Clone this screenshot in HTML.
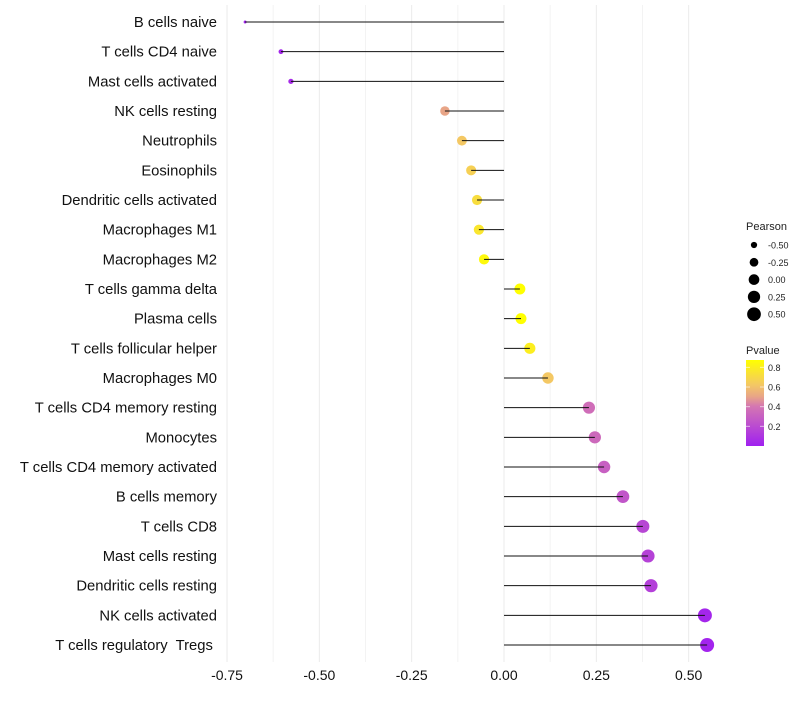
<!DOCTYPE html>
<html><head><meta charset="utf-8"><style>
body{margin:0;background:#fff;font-family:"Liberation Sans",sans-serif}
text{white-space:pre}
</style></head><body>
<svg id="c" width="800" height="700" xmlns="http://www.w3.org/2000/svg" font-family="Liberation Sans, sans-serif"></svg>
<script>
const categories=["B cells naive","T cells CD4 naive","Mast cells activated","NK cells resting","Neutrophils","Eosinophils","Dendritic cells activated","Macrophages M1","Macrophages M2","T cells gamma delta","Plasma cells","T cells follicular helper","Macrophages M0","T cells CD4 memory resting","Monocytes","T cells CD4 memory activated","B cells memory","T cells CD8","Mast cells resting","Dendritic cells resting","NK cells activated","T cells regulatory  Tregs "];
const pearson=[-0.701,-0.604,-0.577,-0.160,-0.114,-0.089,-0.073,-0.068,-0.054,0.043,0.046,0.070,0.119,0.230,0.246,0.271,0.322,0.376,0.390,0.398,0.544,0.550];
const pvalue=[0.01,0.03,0.05,0.50,0.62,0.66,0.72,0.76,0.85,0.88,0.88,0.80,0.62,0.36,0.34,0.30,0.25,0.18,0.16,0.15,0.03,0.02];
const xTicks=[-0.75,-0.5,-0.25,0,0.25,0.5];
const xTickLabels=["-0.75","-0.50","-0.25","0.00","0.25","0.50"];
const sizeLegend=[-0.5,-0.25,0,0.25,0.5];
const sizeLegendLabels=["-0.50","-0.25","0.00","0.25","0.50"];
const pTicks=[0.2,0.4,0.6,0.8];

const svg=document.getElementById('c');const NS="http://www.w3.org/2000/svg";
function el(t,a,p){const e=document.createElementNS(NS,t);for(const k in a)e.setAttribute(k,a[k]);(p||svg).appendChild(e);return e;}
const x=v=>504+v*369.3;
const y=i=>22+i*(623/21);
const r=v=>Math.sqrt(Math.max(1,2.25+(v+0.7)*37.4));
const stops=[[0,[160,32,240]],[0.4,[212,118,178]],[0.5,[232,165,135]],[0.62,[244,200,100]],[0.88,[255,255,0]]];
function col(p){if(p<=stops[0][0])return `rgb(${stops[0][1]})`;for(let k=1;k<stops.length;k++){if(p<=stops[k][0]){const a=stops[k-1],b=stops[k],t=(p-a[0])/(b[0]-a[0]);return `rgb(${a[1].map((c,j)=>Math.round(c+(b[1][j]-c)*t)).join(',')})`;}}return 'rgb(255,255,0)';}
for(let i=0;i<xTicks.length-1;i++){const m=(xTicks[i]+xTicks[i+1])/2;const g=el('line',{x1:x(m),x2:x(m),y1:5,y2:662,stroke:'#f3f3f3','stroke-width':1});}
xTicks.forEach((t,i)=>{const g=el('line',{x1:x(t),x2:x(t),y1:5,y2:662,stroke:'#ebebeb','stroke-width':1});
const tx=el('text',{x:x(t),y:680,'text-anchor':'middle','font-size':14,fill:'#111'});tx.textContent=xTickLabels[i];});
categories.forEach((c,i)=>{const yy=y(i);
const lb=el('text',{x:217,y:yy+5,'text-anchor':'end','font-size':14.8,fill:'#111'});lb.textContent=c;
const pt=el('circle',{cx:x(pearson[i]),cy:yy,r:r(pearson[i]),fill:col(pvalue[i])});
const ln=el('line',{x1:x(0),x2:x(pearson[i]),y1:yy,y2:yy,stroke:'#111','stroke-width':1});});
const lt=el('text',{x:746,y:230,'font-size':11,fill:'#222'});lt.textContent='Pearson';
sizeLegend.forEach((v,i)=>{const yy=245+i*17.3;const cc=el('circle',{cx:754,cy:yy,r:r(v),fill:'#000'});
const t=el('text',{x:768,y:yy+3.5,'font-size':9,fill:'#222'});t.textContent=sizeLegendLabels[i];});
const ct=el('text',{x:746,y:354,'font-size':11,fill:'#222'});ct.textContent='Pvalue';
const defs=el('defs',{});const lg=el('linearGradient',{id:'g',x1:0,y1:1,x2:0,y2:0},defs);
stops.forEach(s=>el('stop',{offset:Math.min(1,s[0]/0.87),'stop-color':`rgb(${s[1]})`},lg));
const bar=el('rect',{x:746,y:360,width:18,height:86,fill:'url(#g)'});
const py=p=>446-p*98.3;
pTicks.forEach(p=>{el('line',{x1:746,x2:750,y1:py(p),y2:py(p),stroke:'#fff','stroke-opacity':0.6});el('line',{x1:760,x2:764,y1:py(p),y2:py(p),stroke:'#fff','stroke-opacity':0.6});
const t=el('text',{x:768,y:py(p)+3.5,'font-size':9,fill:'#222'});t.textContent=p.toFixed(1);});
</script>
</body></html>
